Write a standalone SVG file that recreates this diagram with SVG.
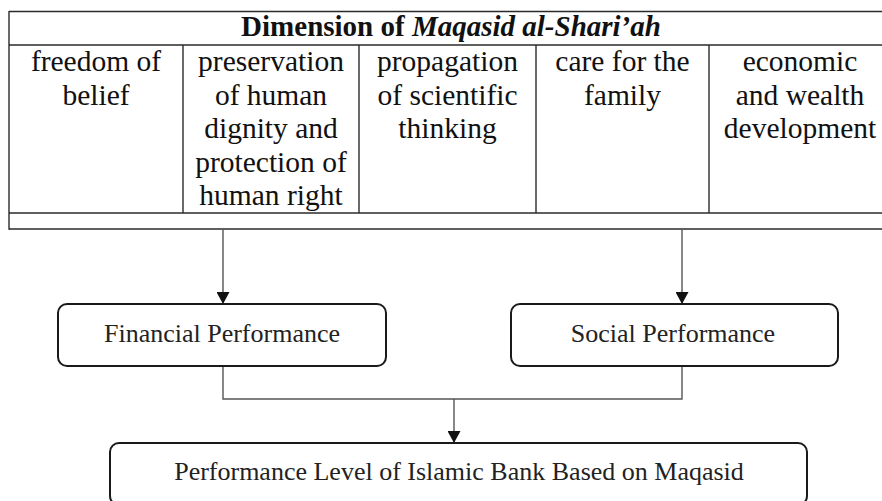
<svg xmlns="http://www.w3.org/2000/svg" width="882" height="501" viewBox="0 0 882 501">
<style>
.tl{stroke:#2a2a2a;stroke-width:1.4;fill:none}
.tt{font-family:"Liberation Serif","Times New Roman",serif;font-size:29.5px;fill:#111;text-anchor:middle}
.hd{font-family:"Liberation Serif","Times New Roman",serif;font-size:29px;font-weight:bold;fill:#111;text-anchor:middle}
.box{fill:#fff;stroke:#1a1a1a;stroke-width:2}
.bt{font-family:"Liberation Serif","Times New Roman",serif;font-size:26px;fill:#222;text-anchor:middle}
.cn{stroke:#555;stroke-width:1.4;fill:none}
</style>
<defs>
<marker id="ah" markerUnits="userSpaceOnUse" markerWidth="13" markerHeight="13" refX="12" refY="6.5" orient="auto">
<path d="M0,0 L12,6.5 L0,13 z" fill="#111"/>
</marker>
</defs>
<rect width="882" height="501" fill="#fff"/>
<g id="table">
<line class="tl" x1="9" y1="11.5" x2="882" y2="11.5"/>
<line class="tl" x1="9" y1="45" x2="882" y2="45"/>
<line class="tl" x1="9" y1="213" x2="882" y2="213"/>
<line class="tl" x1="9" y1="229" x2="882" y2="229"/>
<line class="tl" x1="9" y1="11" x2="9" y2="229.7"/>
<line class="tl" x1="183" y1="45" x2="183" y2="213"/>
<line class="tl" x1="359" y1="45" x2="359" y2="213"/>
<line class="tl" x1="536" y1="45" x2="536" y2="213"/>
<line class="tl" x1="709" y1="45" x2="709" y2="213"/>
<text class="hd" x="451" y="36">Dimension of <tspan font-style="italic">Maqasid al-Shari’ah</tspan></text>
</g>
<g id="col1">
<text class="tt" x="96" y="71">freedom of</text>
<text class="tt" x="96" y="104.5">belief</text>
</g>
<g id="col2">
<text class="tt" x="271" y="71">preservation</text>
<text class="tt" x="271" y="104.5">of human</text>
<text class="tt" x="271" y="138">dignity and</text>
<text class="tt" x="271" y="171.5">protection of</text>
<text class="tt" x="271" y="205">human right</text>
</g>
<g id="col3">
<text class="tt" x="447.5" y="71">propagation</text>
<text class="tt" x="447.5" y="104.5">of scientific</text>
<text class="tt" x="447.5" y="138">thinking</text>
</g>
<g id="col4">
<text class="tt" x="622.5" y="71">care for the</text>
<text class="tt" x="622.5" y="104.5">family</text>
</g>
<g id="col5">
<text class="tt" x="800" y="71">economic</text>
<text class="tt" x="800" y="104.5">and wealth</text>
<text class="tt" x="800" y="138">development</text>
</g>
<g id="connectors">
<line class="cn" x1="223" y1="229.5" x2="223" y2="304" marker-end="url(#ah)"/>
<line class="cn" x1="682" y1="229.5" x2="682" y2="304" marker-end="url(#ah)"/>
<polyline class="cn" points="223,366 223,399 682,399 682,366"/>
<line class="cn" x1="454" y1="399" x2="454" y2="443" marker-end="url(#ah)"/>
</g>
<g id="financial">
<rect class="box" x="58" y="304" width="328" height="62" rx="9"/>
<text class="bt" x="222" y="342">Financial Performance</text>
</g>
<g id="social">
<rect class="box" x="511" y="304" width="327" height="62" rx="9"/>
<text class="bt" x="673" y="342">Social Performance</text>
</g>
<g id="level">
<rect class="box" x="110" y="443" width="697" height="62" rx="9"/>
<text class="bt" x="459" y="480">Performance Level of Islamic Bank Based on Maqasid</text>
</g>
</svg>
